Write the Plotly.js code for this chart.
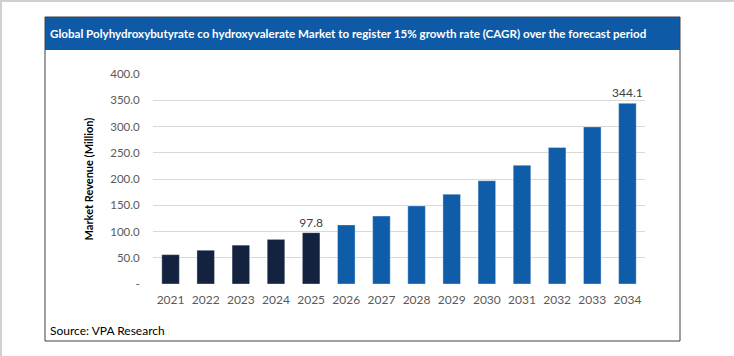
<!DOCTYPE html>
<html>
<head>
<meta charset="utf-8">
<script src="https://cdn.plot.ly/plotly-3.0.1.min.js"></script>
<style>
  html, body { margin: 0; padding: 0; background: #ffffff; }
  #chart { width: 734px; height: 356px; }
</style>
</head>
<body>
<div id="chart"></div>
<script>
// ---- Data ----
const years = ['2021','2022','2023','2024','2025','2026','2027','2028','2029','2030','2031','2032','2033','2034'];
const revenue = [55.9, 64.3, 74.0, 85.0, 97.8, 112.5, 129.3, 148.7, 171.0, 196.7, 226.2, 260.1, 299.2, 344.1];
const labelledYears = ['2025', '2034'];
const historicalYears = ['2021','2022','2023','2024','2025'];
const yTickVals = [0, 50, 100, 150, 200, 250, 300, 350, 400];
const yTickText = ['-', '50.0', '100.0', '150.0', '200.0', '250.0', '300.0', '350.0', '400.0'];
const titleText = 'Global Polyhydroxybutyrate co hydroxyvalerate Market to register 15% growth rate (CAGR) over the forecast period';
const sourceText = 'Source: VPA Research';
const yTitle = 'Market Revenue (Million)';

// ---- Styling ----
const W = 734, H = 356;
const M = { l: 153, r: 89, t: 74, b: 72 };
const PW = W - M.l - M.r, PH = H - M.t - M.b;
const px = x => (x - M.l) / PW;
const py = y => (H - M.b - y) / PH;
const FONT = 'Lato, "Open Sans", sans-serif';
const DARK = '#13233F', BLUE = '#0F5CA8';

const colors = years.map(y => historicalYears.includes(y) ? DARK : BLUE);
const texts = years.map((y, i) => labelledYears.includes(y) ? revenue[i].toFixed(1) : '');

const trace = {
  type: 'bar',
  x: years,
  y: revenue,
  marker: { color: colors, line: { color: 'rgba(255,255,255,0.35)', width: 1 } },
  text: texts,
  textposition: 'outside',
  constraintext: 'none',
  textfont: { family: FONT, size: 12, color: '#404040' },
  cliponaxis: false,
  hoverinfo: 'x+y'
};

const layout = {
  width: W, height: H,
  margin: M,
  paper_bgcolor: '#ffffff',
  plot_bgcolor: '#ffffff',
  showlegend: false,
  bargap: 0.5,
  font: { family: FONT, size: 12, color: '#595959' },
  xaxis: {
    type: 'category',
    showgrid: false,
    zeroline: false,
    showline: false,
    ticks: 'outside', ticklen: 5, tickcolor: 'rgba(0,0,0,0)',
    tickfont: { family: FONT, size: 12, color: '#595959' }
  },
  yaxis: {
    range: [0, 400],
    tickvals: yTickVals,
    ticktext: yTickText,
    showgrid: true,
    gridcolor: '#D9D9D9',
    gridwidth: 1,
    zeroline: false,
    showline: false,
    ticks: 'outside', ticklen: 10, tickcolor: 'rgba(0,0,0,0)',
    tickfont: { family: FONT, size: 11.5, color: '#595959' },
    title: { text: '<b>' + yTitle + '</b>', font: { family: FONT, size: 11, color: '#000000' }, standoff: 14 }
  },
  shapes: [
    // page edges
    { type: 'line', xref: 'paper', yref: 'paper', x0: px(0), x1: px(W), y0: py(1), y1: py(1), line: { color: '#D0D0D0', width: 2 } },
    { type: 'line', xref: 'paper', yref: 'paper', x0: px(1), x1: px(1), y0: py(0), y1: py(H), line: { color: '#D0D0D0', width: 2 } },
    // title band
    { type: 'rect', xref: 'paper', yref: 'paper', x0: px(45), x1: px(680), y0: py(17), y1: py(50), fillcolor: '#0E5AA7', line: { width: 0 }, layer: 'below' },
    // frame
    { type: 'rect', xref: 'paper', yref: 'paper', x0: px(45), x1: px(680), y0: py(17), y1: py(341), fillcolor: 'rgba(0,0,0,0)', line: { color: '#404040', width: 1 } }
  ],
  annotations: [
    { xref: 'paper', yref: 'paper', x: px(48), y: py(33.5), xanchor: 'left', yanchor: 'middle', showarrow: false,
      text: '<b>' + titleText + '</b>', font: { family: FONT, size: 11.6, color: '#ffffff' } },
    { xref: 'paper', yref: 'paper', x: px(48), y: py(330), xanchor: 'left', yanchor: 'middle', showarrow: false,
      text: sourceText, font: { family: FONT, size: 12, color: '#000000' } }
  ]
};

Plotly.newPlot('chart', [trace], layout, { displayModeBar: false, staticPlot: true });
</script>
</body>
</html>
